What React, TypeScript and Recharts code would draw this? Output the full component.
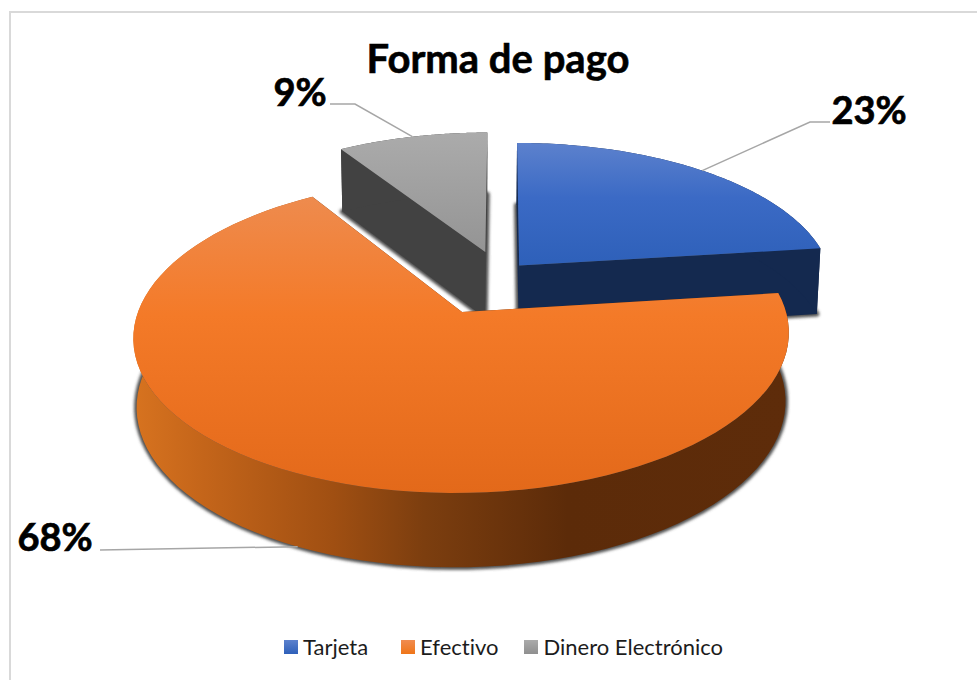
import React from "react";
import { PieChart, Pie, Cell, Legend } from "recharts";

const categories = ["Dinero Electrónico", "Tarjeta", "Efectivo"];
const values = [9, 23, 68];
const legendOrder = ["Tarjeta", "Efectivo", "Dinero Electrónico"];
const chartTitle = "Forma de pago";

const rows = categories.map((name, i) => ({ name, value: values[i] }));
const total = values.reduce((a, b) => a + b, 0);
const START = 90 + (values[0] / total) * 360;

const CX = 462;
const CY = 312;
const R = 324;
const TILT = 0.4748;
const PERSP = 0.15;
const SHRINK = 0.99;
const SHEAR = 6;
const FONT = "Lato, Carlito, sans-serif";

type Look = {
  id: string;
  off: [number, number];
  top: [number, string][];
  wall: string;
  face: string;
  legend: string;
  label: { x: number; y: number; elbow?: [number, number]; end: [number, number] };
};

const wallId = "wall-efectivo";
const looks: Record<string, Look> = {
  Tarjeta: {
    id: "tarjeta",
    off: [0.179, -0.316],
    top: [[0, "#5c81cd"], [0.45, "#3b6ac5"], [1, "#2e60b9"]],
    wall: "#14294f",
    face: "#14294f",
    legend: "linear-gradient(#5c81cd,#2e60b9)",
    label: { x: 869, y: 124, elbow: [810, 122], end: [830, 122] },
  },
  Efectivo: {
    id: "efectivo",
    off: [0, 0],
    top: [[0, "#ee8b4e"], [0.4, "#f47a28"], [1, "#e3691a"]],
    wall: `url(#${wallId})`,
    face: "#5c2b09",
    legend: "linear-gradient(#f08c50,#ef7518)",
    label: { x: 55, y: 551, end: [100, 550] },
  },
  "Dinero Electrónico": {
    id: "dinero",
    off: [0.0687, -0.414],
    top: [[0, "#ababab"], [1, "#949494"]],
    wall: "#424242",
    face: "#424242",
    legend: "linear-gradient(#ababab,#8f8f8f)",
    label: { x: 300, y: 106, elbow: [355, 104], end: [330, 104] },
  },
};

function project(cx: number, cy: number, r: number, u: number, v: number, low: boolean) {
  const s = 1 / (1 - PERSP * v);
  const k = low ? SHRINK : 1;
  const drop = low ? 22 + 46 * s : 0;
  return [cx + r * u * s * k - SHEAR * v * s, cy + r * TILT * v * s * k + drop];
}

function unit(deg: number) {
  const a = (deg * Math.PI) / 180;
  return [Math.cos(a), -Math.sin(a)];
}

const pathOf = (pts: number[][]) =>
  pts.map((p, i) => `${i ? "L" : "M"}${p[0].toFixed(2)} ${p[1].toFixed(2)}`).join("") + "Z";

function Slice3D(props: any) {
  const { cx, cy, outerRadius: r, startAngle, endAngle, name } = props;
  const look = looks[name];
  const [ou, ov] = look.off;
  const steps = 90;
  const arc = (low: boolean) => {
    const pts: number[][] = [];
    for (let i = 0; i <= steps; i++) {
      const [u, v] = unit(startAngle + ((endAngle - startAngle) * i) / steps);
      pts.push(project(cx, cy, r, u + ou, v + ov, low));
    }
    return pts;
  };
  const hi = arc(false);
  const lo = arc(true);
  const apexHi = project(cx, cy, r, ou, ov, false);
  const apexLo = project(cx, cy, r, ou, ov, true);
  const gradId = `top-${look.id}`;
  const blurId = `blur-${look.id}`;
  return (
    <g>
      <defs>
        <linearGradient id={gradId} x1="0" y1="0" x2="0" y2="1">
          {look.top.map(([o, c]) => (
            <stop key={o} offset={o} stopColor={c} />
          ))}
        </linearGradient>
        <linearGradient id={wallId} gradientUnits="userSpaceOnUse" x1="138" y1="0" x2="789" y2="0">
          <stop offset="0" stopColor="#d6721f" />
          <stop offset="0.1" stopColor="#c4651a" />
          <stop offset="0.3" stopColor="#a04f12" />
          <stop offset="0.44" stopColor="#7c3e0f" />
          <stop offset="0.66" stopColor="#5c2b09" />
          <stop offset="1" stopColor="#5e2c0a" />
        </linearGradient>
        <filter id={blurId} x="-10%" y="-10%" width="120%" height="120%">
          <feGaussianBlur stdDeviation="1.5" />
        </filter>
      </defs>
      <path
        d={pathOf([apexLo, ...lo])}
        fill="#4f4f4f"
        stroke="#4f4f4f"
        strokeWidth={5}
        strokeLinejoin="round"
        filter={`url(#${blurId})`}
      />
      <path d={pathOf([apexHi, hi[0], lo[0], apexLo])} fill={look.face} />
      <path d={pathOf([apexHi, hi[steps], lo[steps], apexLo])} fill={look.face} />
      <path d={pathOf([...hi, ...lo.slice().reverse()])} fill={look.wall} />
      <path d={pathOf([apexHi, ...hi])} fill={`url(#${gradId})`} />
    </g>
  );
}

function SliceLabel(props: any) {
  const { cx, cy, outerRadius: r, midAngle, percent, name } = props;
  const look = looks[name];
  const [u, v] = unit(midAngle);
  const low = name === "Efectivo";
  const anchor = project(cx, cy, r, u + look.off[0], v + look.off[1], low);
  const { x, y, elbow, end } = look.label;
  const pts = [anchor, ...(elbow ? [elbow] : []), end];
  return (
    <g>
      <polyline
        points={pts.map((p) => p.join(",")).join(" ")}
        fill="none"
        stroke="#a6a6a6"
        strokeWidth={1.5}
      />
      <text x={x} y={y} textAnchor="middle" fontFamily={FONT} fontWeight={700} fontSize={38} fill="#000" stroke="#000" strokeWidth={0.7}>
        {`${Math.round(percent * 100)}%`}
      </text>
    </g>
  );
}

function LegendBox({ payload }: any) {
  const items = legendOrder.map((n) => (payload || []).find((p: any) => p.value === n)).filter(Boolean);
  const gaps = [33, 26, 0];
  return (
    <div style={{ position: "absolute", left: 284, top: 633, display: "flex", fontFamily: FONT, fontSize: 22, color: "#1c1c1c", whiteSpace: "nowrap", fontVariantLigatures: "none" }}>
      {items.map((it: any, i: number) => (
        <div key={it.value} style={{ display: "flex", alignItems: "center", marginRight: gaps[i] }}>
          <span style={{ width: 14, height: 14, marginRight: 5, background: looks[it.value].legend, display: "inline-block" }} />
          <span>{it.value}</span>
        </div>
      ))}
    </div>
  );
}

export default function App() {
  return (
    <div style={{ position: "absolute", left: 0, top: 0, width: 977, height: 680, overflow: "hidden", background: "#fff" }}>
      <PieChart width={977} height={680} margin={{ top: 0, right: 0, bottom: 0, left: 0 }}>
        <rect x={10} y={12} width={1200} height={1000} fill="none" stroke="#d9d9d9" strokeWidth={2} />
        <text x={498} y={73} textAnchor="middle" fontFamily={FONT} fontWeight={700} fontSize={40} fill="#000" stroke="#000" strokeWidth={0.6}>
          {chartTitle}
        </text>
        <Pie
          data={rows}
          dataKey="value"
          nameKey="name"
          cx={CX}
          cy={CY}
          innerRadius={0}
          outerRadius={R}
          startAngle={START}
          endAngle={START - 360}
          stroke="none"
          shape={Slice3D}
          label={SliceLabel}
          labelLine={false}
          isAnimationActive={false}
        >
          {rows.map((r) => (
            <Cell key={r.name} fill={looks[r.name].top[1][1]} />
          ))}
        </Pie>
        <Legend content={LegendBox as any} wrapperStyle={{ position: "absolute", left: 0, top: 0, width: 977, height: 0 }} />
      </PieChart>
    </div>
  );
}
